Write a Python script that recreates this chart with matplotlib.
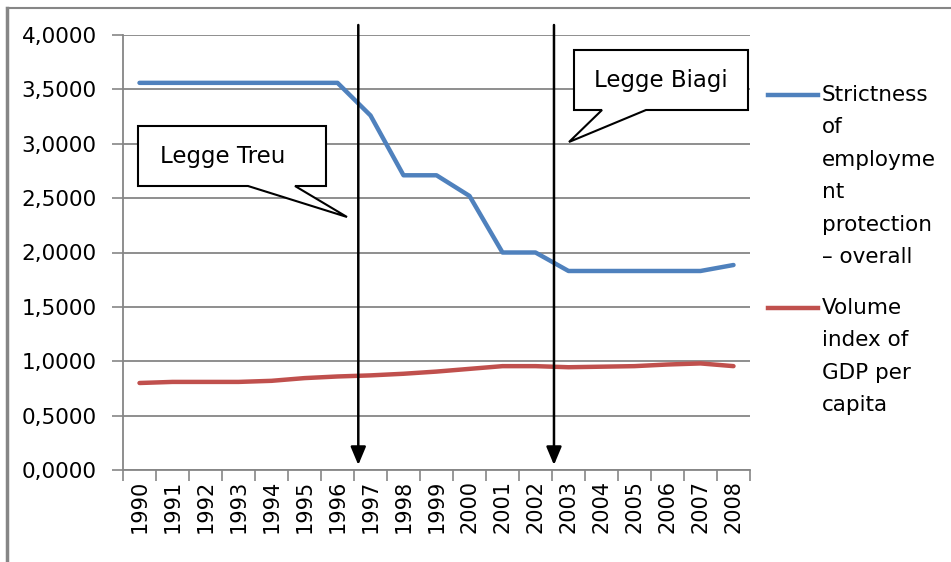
#!/usr/bin/env python3
"""EPL strictness vs GDP per capita, Italy 1990-2008."""
import matplotlib
matplotlib.use("Agg")
import matplotlib.pyplot as plt
from matplotlib.patches import Polygon
from matplotlib.ticker import FuncFormatter, FixedLocator

years = [str(y) for y in range(1990, 2009)]
epl_overall = [3.56, 3.56, 3.56, 3.56, 3.56, 3.56, 3.56, 3.26, 2.71, 2.71,
               2.52, 2.00, 2.00, 1.83, 1.83, 1.83, 1.83, 1.83, 1.885]
gdp_index = [0.80, 0.81, 0.81, 0.81, 0.82, 0.845, 0.86, 0.87, 0.885, 0.905,
             0.93, 0.955, 0.955, 0.945, 0.95, 0.955, 0.97, 0.98, 0.955]
series_names = ["Strictness\nof\nemployme\nnt\nprotection\n– overall",
                "Volume\nindex of\nGDP per\ncapita"]
laws = ["Legge Treu", "Legge Biagi"]
law_positions = [6.63, 12.56]  # category units, between the year ticks

BLUE = "#4F81BD"
RED = "#C0504D"
GRID = "#868686"
W, H = 951, 562


def px(x, y):
    """figure pixel (from top-left) -> figure fraction"""
    return x / W, 1 - y / H


plt.rcParams["font.family"] = "DejaVu Sans"
fig = plt.figure(figsize=(W / 100, H / 100), dpi=100)
ax = fig.add_axes([123 / W, 1 - 470 / H, (750 - 123) / W, (470 - 35) / H])

x = range(len(years))
ax.plot(x, epl_overall, color=BLUE, lw=3.2, solid_capstyle="round", zorder=3)
ax.plot(x, gdp_index, color=RED, lw=3.2, solid_capstyle="round", zorder=3)

ax.set_xlim(-0.5, len(years) - 0.5)
ax.set_ylim(0, 4)
ax.set_yticks([i * 0.5 for i in range(9)])
ax.yaxis.set_major_formatter(FuncFormatter(lambda v, p: f"{v:.4f}".replace(".", ",")))
ax.grid(axis="y", color=GRID, lw=1.3)
ax.set_axisbelow(True)

ax.xaxis.set_major_locator(FixedLocator([i - 0.5 for i in range(len(years) + 1)]))
ax.xaxis.set_major_formatter(FuncFormatter(lambda v, p: ""))
ax.set_xticks(list(x), minor=True)
ax.set_xticklabels(years, minor=True, rotation=90, fontsize=15)
ax.tick_params(axis="x", which="minor", length=0, pad=7)
ax.tick_params(axis="x", which="major", length=8, color=GRID, width=1.2)
ax.tick_params(axis="y", length=8, color=GRID, width=1.2, labelsize=15.5, pad=11)

for s in ["top", "right"]:
    ax.spines[s].set_visible(False)
for s in ["left", "bottom"]:
    ax.spines[s].set_color(GRID)
    ax.spines[s].set_linewidth(1.3)

# law arrows, from above the plot down to the axis
for xpos in law_positions:
    ax.annotate("", xy=(xpos, 1 - 465 / H), xytext=(xpos, 1 - 25 / H),
                xycoords=("data", "figure fraction"),
                textcoords=("data", "figure fraction"),
                annotation_clip=False,
                arrowprops=dict(arrowstyle="-|>,head_length=1,head_width=0.42",
                                mutation_scale=11, color="black", lw=1.8,
                                shrinkA=0, shrinkB=0, clip_on=False))

# speech-bubble callouts
bubbles = [
    [(138, 126), (326, 126), (326, 186), (295, 186), (347, 217), (248, 186), (138, 186)],
    [(574, 50), (748, 50), (748, 110), (646, 110), (569, 142), (602, 110), (574, 110)],
]
label_pos = [(223, 157), (661, 80)]
for verts, label, (tx, ty) in zip(bubbles, laws, label_pos):
    fig.patches.append(Polygon([px(*v) for v in verts], closed=True,
                               transform=fig.transFigure, facecolor="white",
                               edgecolor="black", lw=1.5, zorder=5))
    fig.text(*px(tx, ty), label, fontsize=16.5, ha="center", va="center", zorder=6)

# legend at right
for name, color, y0 in zip(series_names, [BLUE, RED], [95, 308]):
    fig.add_artist(plt.Line2D([768 / W, 818 / W], [1 - y0 / H] * 2,
                              color=color, lw=3.2, transform=fig.transFigure))
    for i, line in enumerate(name.split("\n")):
        fig.text(*px(822, y0 + i * 32.4), line, fontsize=15.5, va="center", ha="left")

# outer frame (left and top edges visible)
fig.add_artist(plt.Line2D([7 / W, 7 / W], [0, 1 - 8 / H], color=GRID, lw=2.5,
                          transform=fig.transFigure))
fig.add_artist(plt.Line2D([7 / W, 1], [1 - 8 / H] * 2, color=GRID, lw=1.5,
                          transform=fig.transFigure))

plt.savefig("out.png", dpi=100)
plt.close()
